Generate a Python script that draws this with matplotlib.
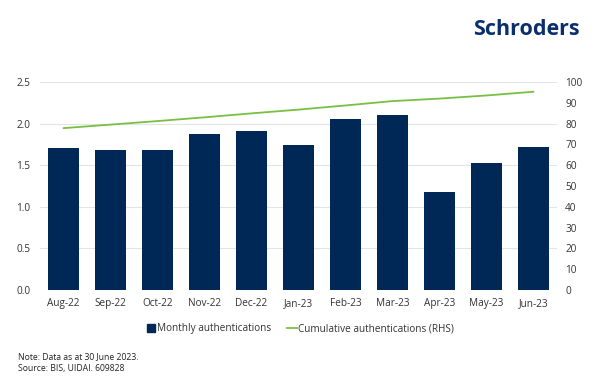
import matplotlib

matplotlib.use("Agg")
import matplotlib.pyplot as plt
from matplotlib.lines import Line2D
import numpy as np

NAVY = "#002856"
GREEN = "#78C043"
TEXT = "#333333"
GRID = "#E4E4E4"

plt.rcParams.update({"font.family": ["Open Sans", "DejaVu Sans"], "font.size": 7})

months = ["Aug-22", "Sep-22", "Oct-22", "Nov-22", "Dec-22", "Jan-23",
          "Feb-23", "Mar-23", "Apr-23", "May-23", "Jun-23"]
monthly = [1.71, 1.68, 1.68, 1.87, 1.91, 1.74, 2.05, 2.10, 1.18, 1.52, 1.72]
cumulative = [77.8, 79.5, 81.2, 83.0, 84.9, 86.7, 88.7, 90.8, 92.0, 93.5, 95.3]
left_ticks = [0.0, 0.5, 1.0, 1.5, 2.0, 2.5]
right_ticks = [0, 10, 20, 30, 40, 50, 60, 70, 80, 90, 100]

fig = plt.figure(figsize=(6, 3.83), dpi=100)
ax = fig.add_axes([0.067, 0.243, 0.861, 0.543])
ax2 = ax.twinx()

x = np.arange(len(months))
ax.bar(x, monthly, width=0.66, color=NAVY, zorder=2)
ax2.plot(x, cumulative, color=GREEN, linewidth=1.3, zorder=3)

ax.set_xlim(-0.5, len(months) - 0.5)
ax.set_ylim(0, 2.5)
ax2.set_ylim(0, 100)
ax.set_yticks(left_ticks)
ax.set_yticklabels([f"{v:.1f}" for v in left_ticks])
ax2.set_yticks(right_ticks)
ax.set_xticks(x)
ax.set_xticklabels(months)
ax.grid(axis="y", color=GRID, linewidth=0.8, zorder=0)
ax.set_axisbelow(True)

for a in (ax, ax2):
    for s in a.spines.values():
        s.set_visible(False)
    a.tick_params(length=0, colors=TEXT, labelsize=7.2)
ax.tick_params(axis="y", pad=7)
ax.tick_params(axis="x", pad=6)
ax2.tick_params(axis="y", pad=6)
ax.set_zorder(ax2.get_zorder() - 1)
ax2.patch.set_visible(False)

handles = [
    Line2D([], [], marker="s", linestyle="none", color=NAVY, markersize=6),
    Line2D([], [], color=GREEN, linewidth=1.3),
]
fig.legend(handles, ["Monthly authentications", "Cumulative authentications (RHS)"],
           loc="center", bbox_to_anchor=(0.5, 0.141), ncol=2, frameon=False,
           fontsize=7.2, handlelength=1.0, handletextpad=0.1, columnspacing=1.6,
           numpoints=1, labelcolor=TEXT)

fig.text(0.966, 0.922, "Schroders", ha="right", va="center", fontsize=15.5,
         fontweight="bold", color="#0B2E6F")
fig.text(0.03, 0.068, "Note: Data as at 30 June 2023.", fontsize=6.2, color="#222222",
         va="center")
fig.text(0.03, 0.037, "Source: BIS, UIDAI. 609828", fontsize=6.2, color="#222222",
         va="center")

fig.savefig("out.png", dpi=100)
